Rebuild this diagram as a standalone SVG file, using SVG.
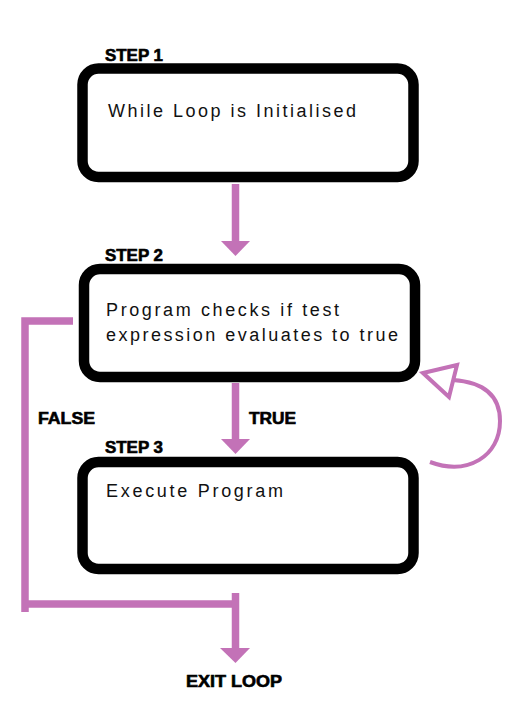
<svg xmlns="http://www.w3.org/2000/svg" width="508" height="714" viewBox="0 0 508 714">
<style>
.box{fill:#fff;stroke:#000;stroke-width:10.5}
.txt{font-family:"Liberation Sans",Arial,sans-serif;font-size:18px;fill:#111}
.lbl{font-family:"Liberation Sans",Arial,sans-serif;font-size:16px;font-weight:bold;fill:#000;stroke:#000;stroke-width:0.6}
.con{fill:none;stroke:#c372b7;stroke-width:7.5}
.head{fill:#c372b7}
</style>
<rect width="508" height="714" fill="#fff"/>
<g id="connectors">
<line class="con" x1="235.5" y1="184" x2="235.5" y2="242"/>
<polygon class="head" points="221,241 250,241 235.5,256"/>
<line class="con" x1="235.5" y1="383" x2="235.5" y2="440"/>
<polygon class="head" points="221,439 250,439 235.5,454"/>
<polyline class="con" points="73,321 25,321 25,612"/>
<polyline class="con" points="25,604 235.5,604"/>
<line class="con" x1="235.5" y1="593" x2="235.5" y2="649"/>
<polygon class="head" points="220,648 250,648 235.5,663"/>
<path class="con" style="stroke-width:4" d="M430,462 C468,476 500,456 500,421 C500,394 482,382 453,380"/>
<polygon points="423,373 457,365 449,397" fill="#fff" stroke="#c372b7" stroke-width="4" stroke-linejoin="miter"/>
<text class="lbl" x="38" y="424" textLength="57" lengthAdjust="spacingAndGlyphs">FALSE</text>
<text class="lbl" x="249" y="424" textLength="47" lengthAdjust="spacingAndGlyphs">TRUE</text>
</g>
<g id="step1">
<text class="lbl" x="105" y="61" textLength="58" lengthAdjust="spacingAndGlyphs">STEP 1</text>
<rect class="box" x="82.5" y="68.5" width="331" height="108.5" rx="16"/>
<text class="txt" x="108" y="117" textLength="248" lengthAdjust="spacing">While Loop is Initialised</text>
</g>
<g id="step2">
<text class="lbl" x="105" y="261" textLength="58" lengthAdjust="spacingAndGlyphs">STEP 2</text>
<rect class="box" x="84" y="269" width="331" height="108" rx="16"/>
<text class="txt" x="106" y="316" textLength="233" lengthAdjust="spacing">Program checks if test</text>
<text class="txt" x="106" y="341" textLength="292" lengthAdjust="spacing">expression evaluates to true</text>
</g>
<g id="step3">
<text class="lbl" x="105" y="453" textLength="58" lengthAdjust="spacingAndGlyphs">STEP 3</text>
<rect class="box" x="82.5" y="462" width="331" height="107" rx="16"/>
<text class="txt" x="106" y="497" textLength="177" lengthAdjust="spacing">Execute Program</text>
</g>
<g id="exit">
<text class="lbl" x="186" y="687" textLength="96" lengthAdjust="spacingAndGlyphs">EXIT LOOP</text>
</g>
</svg>
